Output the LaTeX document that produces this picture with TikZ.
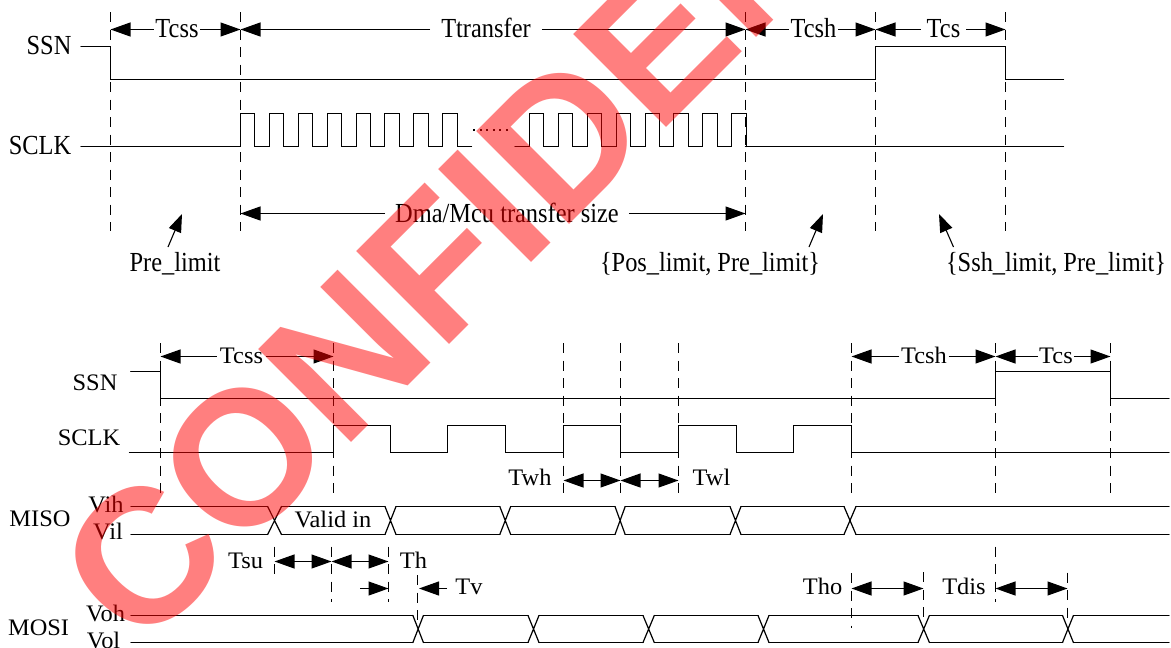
\documentclass[tikz,border=0pt]{standalone}
\usepackage{graphicx}
\usepackage{fontspec}
\setmainfont{Liberation Serif}
\newfontfamily\wmfont{Liberation Sans}
\usetikzlibrary{arrows.meta}
\newcommand\UT[1]{\scalebox{1}[1.13]{#1}}
\newcommand\LT[1]{\scalebox{1}[0.97]{#1}}
\tikzset{
  x=1pt,y=-1pt,
  every node/.style={inner ysep=0pt,inner xsep=0pt,text depth=0pt,font=\fontsize{24.4}{24.4}\selectfont},
  uplab/.style={text height=18pt},
  lowlab/.style={text height=15.5pt},
  wave/.style={line width=1.2pt,line join=miter,line cap=round},
  dashv/.style={line width=1pt,dash pattern=on 10pt off 7.5pt},
  onehead/.style={line width=1.1pt,-{Triangle[length=20pt,width=14pt]}},
  twohead/.style={line width=1.1pt,{Triangle[length=20pt,width=14pt]}-{Triangle[length=20pt,width=14pt]}},
  pointer/.style={line width=1.1pt,-{Triangle[length=18pt,width=13pt]}},
  wmark/.style={font=\wmfont\bfseries\fontsize{191}{191}\selectfont,text=red,text opacity=0.5,rotate=45,anchor=base west,text height=0pt},
}
\begin{document}
\begin{tikzpicture}
\useasboundingbox (0,0) rectangle (1171,648);
\clip (0,0) rectangle (1171,648);
\fill[white] (0,0) rectangle (1171,648);

% ---------- upper diagram
\foreach \n/\x in {a/110.5,b/240.5,c/745.5,d/875.5,e/1005.5}{
  \coordinate (u\n) at (\x,29.5);
  \coordinate (ub\n) at (\x,213.5);
  \draw[dashv] (\x,12) -- (\x,231);
}
\draw[wave] (81,46.5) -- (110.5,46.5) -- (110.5,79.5) -- (875.5,79.5) -- (875.5,46.5) -- (1005.5,46.5) -- (1005.5,79.5) -- (1063.5,79.5);
\draw[wave] (81,146.5) -- (240.5,146.5)
  \foreach \k in {0,...,7}{ -- ({round(240+28.9*\k)+0.5},113.5) -- ({round(254.4+28.9*\k)+0.5},113.5) -- ({round(254.4+28.9*\k)+0.5},146.5) -- ({round(268.9+28.9*\k)+0.5},146.5)};
\draw[wave] (515,146.5) -- (529.5,146.5)
  \foreach \k in {0,...,7}{ -- ({round(529+28.9*\k)+0.5},113.5) -- ({round(543.4+28.9*\k)+0.5},113.5) -- ({round(543.4+28.9*\k)+0.5},146.5) \ifnum\k<7 -- ({round(557.9+28.9*\k)+0.5},146.5)\fi};
\draw[line width=2pt,dash pattern=on 2pt off 4.6pt] (473,129.5) -- (512,129.5);
\draw[wave] (745.5,146.5) -- (1063.5,146.5);

\node[uplab] (ssn1) at (49,45) {\UT{SSN}};
\node[uplab] (sclk1) at (40,145.5) {\UT{SCLK}};

\node[uplab,inner xsep=1.5pt] (tcss1) at (177,28) {\UT{Tcss}};
\node[uplab,inner xsep=11pt] (ttr) at (486,28) {\UT{Ttransfer}};
\node[uplab,inner xsep=1.5pt] (tcsh1) at (813.5,28) {\UT{Tcsh}};
\node[uplab,inner xsep=6pt] (tcs1) at (943.5,28) {\UT{Tcs}};
\node[uplab,inner xsep=10pt] (dma) at (507,213) {\UT{Dma/Mcu transfer size}};

\draw[onehead] (tcss1.west |- ua) -- (ua);
\draw[onehead] (tcss1.east |- ub) -- (ub);
\draw[onehead] (ttr.west |- ub) -- (ub);
\draw[onehead] (ttr.east |- uc) -- (uc);
\draw[onehead] (tcsh1.west |- uc) -- (uc);
\draw[onehead] (tcsh1.east |- ud) -- (ud);
\draw[onehead] (tcs1.west |- ud) -- (ud);
\draw[onehead] (tcs1.east |- ue) -- (ue);
\draw[onehead] (dma.west |- ubb) -- (ubb);
\draw[onehead] (dma.east |- ubc) -- (ubc);

\node[uplab] (prelim) at (175,262) {\UT{Pre\_limit}};
\node[uplab] (poslim) at (710,262) {\UT{\{Pos\_limit, Pre\_limit\}}};
\node[uplab] (sshlim) at (1056,262) {\UT{\{Ssh\_limit, Pre\_limit\}}};
\coordinate (p1a) at (168,247); \coordinate (p1b) at (182,214);
\coordinate (p2a) at (809,247); \coordinate (p2b) at (823,214);
\coordinate (p3a) at (953.5,247); \coordinate (p3b) at (939,214);
\draw[pointer] (p1a) -- (p1b);
\draw[pointer] (p2a) -- (p2b);
\draw[pointer] (p3a) -- (p3b);

% ---------- lower diagram
\foreach \n/\x in {a/160.5,b/333.5,c/563.5,d/620.5,e/678.5,f/851.5,g/995.5,h/1110.5}{
  \coordinate (l\n) at (\x,356.5);
  \coordinate (w\n) at (\x,480.5);
  \draw[dashv] (\x,343) -- (\x,493);
}
\draw[wave] (130.6,371.5) -- (160.5,371.5) -- (160.5,398.5) -- (995.5,398.5) -- (995.5,371.5) -- (1110.5,371.5) -- (1110.5,398.5) -- (1169,398.5);
\draw[wave] (129.5,452.5) -- (333.5,452.5) -- (333.5,425.5) -- (390.5,425.5) -- (390.5,452.5) -- (447.5,452.5) -- (447.5,425.5)
  -- (505.5,425.5) -- (505.5,452.5) -- (563.5,452.5) -- (563.5,425.5) -- (620.5,425.5) -- (620.5,452.5) -- (678.5,452.5)
  -- (678.5,425.5) -- (736.5,425.5) -- (736.5,452.5) -- (793.5,452.5) -- (793.5,425.5) -- (851.5,425.5) -- (851.5,452.5) -- (1169,452.5);

% MISO bus
\foreach \p/\q in {131/267.6,281.5/385,396/499.8,510.7/615,625.2/730,741/844,856/1169}{
  \draw[wave] (\p,506.5) -- (\q,506.5) (\p,534.5) -- (\q,534.5);
}
\foreach \p/\q in {267.6/281.5,385/396,499.8/510.7,615/625.2,730/741,844/856}{
  \draw[wave] (\p,506.5) -- (\q,534.5) (\p,534.5) -- (\q,506.5);
}
% MOSI bus
\foreach \p/\q in {131/412.9,423.4/528,539/643,654.3/758,769/918,929.4/1062.5,1073.4/1169}{
  \draw[wave] (\p,615.5) -- (\q,615.5) (\p,642.5) -- (\q,642.5);
}
\foreach \p/\q in {412.9/423.4,528/539,643/654.3,758/769,918/929.4,1062.5/1073.4}{
  \draw[wave] (\p,615.5) -- (\q,642.5) (\p,642.5) -- (\q,615.5);
}

\node[lowlab] (ssn2) at (95,383) {\LT{SSN}};
\node[lowlab] (sclk2) at (89,438) {\LT{SCLK}};
\node[lowlab] (vih) at (106,505) {\LT{Vih}};
\node[lowlab] (vil) at (108,532) {\LT{Vil}};
\node[lowlab] (miso) at (40,519) {\LT{MISO}};
\node[lowlab] (voh) at (105.5,614) {\LT{Voh}};
\node[lowlab] (vol) at (103.5,641) {\LT{Vol}};
\node[lowlab] (mosi) at (38.6,628) {\LT{MOSI}};
\node[lowlab] (valid) at (333,520) {\LT{Valid in}};

\node[lowlab,inner xsep=3pt] (tcss2) at (241.5,356) {\LT{Tcss}};
\node[lowlab,inner xsep=1.5pt] (tcsh2) at (924,356) {\LT{Tcsh}};
\node[lowlab,inner xsep=1pt] (tcs2) at (1056,356) {\LT{Tcs}};
\draw[onehead] (tcss2.west |- la) -- (la);
\draw[onehead] (tcss2.east |- lb) -- (lb);
\draw[onehead] (tcsh2.west |- lf) -- (lf);
\draw[onehead] (tcsh2.east |- lg) -- (lg);
\draw[onehead] (tcs2.west |- lg) -- (lg);
\draw[onehead] (tcs2.east |- lh) -- (lh);

\node[lowlab] (twh) at (530,478) {\LT{Twh}};
\node[lowlab] (twl) at (711.5,478) {\LT{Twl}};
\draw[twohead] (wc) -- (wd);
\draw[twohead] (wd) -- (we);

% lower measurement marks
\draw[dashv] (274.5,546.7) -- (274.5,575);
\draw[dashv] (331.5,546.7) -- (331.5,602);
\draw[dashv] (388.5,546.7) -- (388.5,602);
\draw[dashv] (417.5,575) -- (417.5,620);
\draw[dashv] (851.5,573) -- (851.5,627.7);
\draw[dashv] (923.5,572) -- (923.5,618);
\draw[dashv] (995.5,546.7) -- (995.5,601.7);
\draw[dashv] (1067.5,572.7) -- (1067.5,618);

\coordinate (su) at (274.5,561.5); \coordinate (sm) at (331.5,561.5); \coordinate (sh) at (388.5,561.5);
\coordinate (hh) at (388.5,588.5); \coordinate (hf) at (360,588.5);
\coordinate (vt) at (419,588.5); \coordinate (vf) at (447,588.5);
\coordinate (oa) at (851.5,588.5); \coordinate (ob) at (923.5,588.5);
\coordinate (da) at (995.5,588.5); \coordinate (db) at (1067.5,588.5);
\draw[twohead] (su) -- (sm);
\draw[twohead] (sm) -- (sh);
\draw[onehead] (hf) -- (hh);
\draw[onehead] (vf) -- (vt);
\draw[twohead] (oa) -- (ob);
\draw[twohead] (da) -- (db);

\node[lowlab] (tsu) at (245.5,561) {\LT{Tsu}};
\node[lowlab] (th) at (413.5,561) {\LT{Th}};
\node[lowlab] (tv) at (469,587) {\LT{Tv}};
\node[lowlab] (tho) at (822.6,587) {\LT{Tho}};
\node[lowlab] (tdis) at (964,587) {\LT{Tdis}};

% ---------- watermark
\node[wmark] (wm) at (140,654) {CONFIDEN};
\end{tikzpicture}
\end{document}
